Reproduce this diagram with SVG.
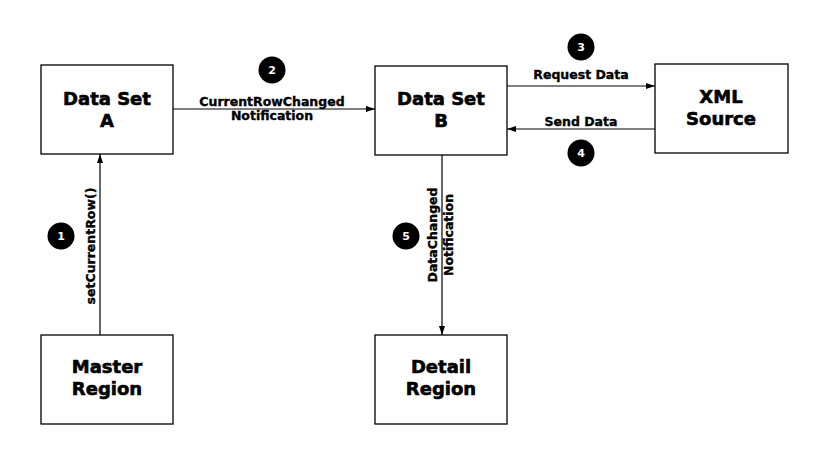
<svg xmlns="http://www.w3.org/2000/svg" width="828" height="457" viewBox="0 0 828 457">
<defs>
<marker id="ah" markerWidth="10" markerHeight="8" refX="9" refY="4" orient="auto" markerUnits="userSpaceOnUse">
<path d="M0,1 L9,4 L0,7 Z" fill="#000"/>
</marker>
<style>
.box{fill:#fff;stroke:#000;stroke-width:1.3}
.nt{font-family:"DejaVu Sans",sans-serif;font-weight:bold;font-size:18px;text-anchor:middle;fill:#000;stroke:#000;stroke-width:0.6}
.lb{font-family:"DejaVu Sans",sans-serif;font-weight:bold;font-size:12.5px;text-anchor:middle;fill:#000;stroke:#000;stroke-width:0.35}
.ln{stroke:#000;stroke-width:1.2;fill:none;marker-end:url(#ah)}
.bc{fill:#000}
.bn{font-family:"DejaVu Sans",sans-serif;font-weight:bold;font-size:11px;text-anchor:middle;fill:#fff}
</style>
</defs>
<rect width="828" height="457" fill="#fff"/>
<g id="connectors">
<line class="ln" x1="173" y1="109" x2="375" y2="109"/>
<line class="ln" x1="507" y1="86" x2="655" y2="86"/>
<line class="ln" x1="655" y1="129" x2="507" y2="129"/>
<line class="ln" x1="100" y1="335" x2="100" y2="154"/>
<line class="ln" x1="442" y1="155" x2="442" y2="335"/>
<text class="lb" x="272" y="106">CurrentRowChanged</text>
<text class="lb" x="272" y="120">Notification</text>
<text class="lb" x="581" y="79">Request Data</text>
<text class="lb" x="581" y="126">Send Data</text>
<text class="lb" transform="translate(95,246) rotate(-90)">setCurrentRow()</text>
<text class="lb" transform="translate(437,235) rotate(-90)">DataChanged</text>
<text class="lb" transform="translate(453,235) rotate(-90)">Notification</text>
</g>
<g id="badge1"><circle class="bc" cx="61" cy="236" r="13.5"/><text class="bn" x="61" y="240">1</text></g>
<g id="badge2"><circle class="bc" cx="272" cy="70" r="13.5"/><text class="bn" x="272" y="74">2</text></g>
<g id="badge3"><circle class="bc" cx="581" cy="47" r="13.5"/><text class="bn" x="581" y="51">3</text></g>
<g id="badge4"><circle class="bc" cx="581" cy="153" r="13.5"/><text class="bn" x="581" y="157">4</text></g>
<g id="badge5"><circle class="bc" cx="406" cy="236" r="13.5"/><text class="bn" x="406" y="240">5</text></g>
<g id="dataSetA"><rect class="box" x="41" y="65" width="132" height="89"/><text class="nt" x="107" y="105">Data Set</text><text class="nt" x="107" y="127">A</text></g>
<g id="dataSetB"><rect class="box" x="375" y="66" width="132" height="89"/><text class="nt" x="441" y="105">Data Set</text><text class="nt" x="441" y="127">B</text></g>
<g id="xmlSource"><rect class="box" x="655" y="64" width="133" height="89"/><text class="nt" x="721" y="103">XML</text><text class="nt" x="721" y="125">Source</text></g>
<g id="masterRegion"><rect class="box" x="41" y="335" width="132" height="89"/><text class="nt" x="107" y="373">Master</text><text class="nt" x="107" y="395">Region</text></g>
<g id="detailRegion"><rect class="box" x="375" y="335" width="132" height="89"/><text class="nt" x="441" y="373">Detail</text><text class="nt" x="441" y="395">Region</text></g>
</svg>
